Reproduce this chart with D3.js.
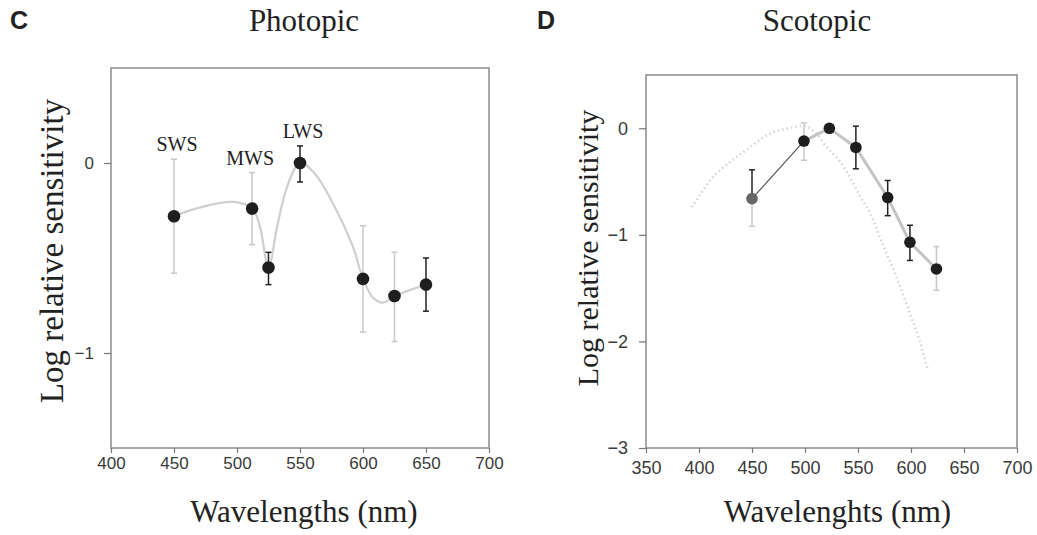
<!DOCTYPE html>
<html>
<head>
<meta charset="utf-8">
<script src="https://cdn.jsdelivr.net/npm/d3@7"></script>
<style>
  body { margin: 0; background: #fff; }
  svg { display: block; }
  .serif { font-family: "Liberation Serif", "Times New Roman", serif; fill: #222; }
  .tick text { font-family: "Liberation Sans", Arial, sans-serif; fill: #3a3a3a; }
</style>
</head>
<body>
<script>
// ---- photopic (panel C) ----
const photWl   = [450, 512, 525, 550, 600, 625, 650];
const photVal  = [-0.28, -0.24, -0.55, 0.0, -0.61, -0.70, -0.64];
const photHi   = [0.02, -0.05, -0.47, 0.09, -0.33, -0.47, -0.50];
const photLo   = [-0.58, -0.43, -0.64, -0.10, -0.89, -0.94, -0.78];
// fitted curve
const photFitWl  = [450, 470, 497, 512, 518, 525, 532, 540, 550, 561, 576, 592, 600, 608, 616, 625, 650];
const photFitVal = [-0.28, -0.235, -0.205, -0.24, -0.33, -0.55, -0.33, -0.12, 0, -0.05, -0.21, -0.44, -0.61, -0.71, -0.735, -0.70, -0.64];
const coneNames = ['SWS', 'MWS', 'LWS'];
const coneWl    = [450, 512, 550];
const photXTicks = [400, 450, 500, 550, 600, 650, 700];
const photYTicks = [-1, 0];

// ---- scotopic (panel D) ----
const scotWl  = [450, 499, 523, 548, 578, 599, 624];
const scotVal = [-0.66, -0.12, 0.0, -0.18, -0.65, -1.07, -1.32];
const scotHi  = [-0.39, 0.05, 0.0, 0.02, -0.49, -0.91, -1.11];
const scotLo  = [-0.92, -0.30, 0.0, -0.38, -0.82, -1.24, -1.52];
// rhodopsin template (dotted)
const tplWl  = [393, 400, 413, 430, 445, 467, 485, 500, 510, 520, 532, 542, 552, 561, 573, 586, 599, 608, 616];
const tplVal = [-0.74, -0.64, -0.46, -0.31, -0.2, -0.05, 0.0, 0.02, -0.04, -0.17, -0.3, -0.45, -0.64, -0.79, -1.08, -1.39, -1.74, -1.99, -2.27];
const scotXTicks = [350, 400, 450, 500, 550, 600, 650, 700];
const scotYTicks = [-3, -2, -1, 0];

const W = 1037, H = 535;
const svg = d3.select('body').append('svg').attr('width', W).attr('height', H);

function panel(opt) {
  const x = d3.scaleLinear().domain(opt.xDomain).range([opt.left, opt.right]);
  const y = d3.scaleLinear().domain(opt.yDomain).range([opt.bottom, opt.top]);
  const g = svg.append('g');

  // frame
  g.append('rect')
    .attr('x', opt.left).attr('y', opt.top)
    .attr('width', opt.right - opt.left).attr('height', opt.bottom - opt.top)
    .attr('fill', 'none').attr('stroke', '#8a8a8a').attr('stroke-width', 1.5);

  const xa = g.append('g').attr('transform', `translate(0,${opt.bottom})`)
    .call(d3.axisBottom(x).tickValues(opt.xTicks).tickSize(5).tickPadding(opt.xPad).tickFormat(d3.format('d')));
  const ya = g.append('g').attr('transform', `translate(${opt.left},0)`)
    .call(d3.axisLeft(y).tickValues(opt.yTicks).tickSize(7).tickPadding(opt.yPad).tickFormat(d3.format('d')));
  [xa, ya].forEach(a => {
    a.select('.domain').remove();
    a.selectAll('line').attr('stroke', '#777').attr('stroke-width', 1.2);
    a.selectAll('text').style('font-size', opt.tickFont + 'px');
  });

  // titles and labels
  svg.append('text').attr('class', 'serif')
    .attr('x', opt.titleX).attr('y', 31).attr('text-anchor', 'middle')
    .style('font-size', '31px').text(opt.title);
  svg.append('text')
    .attr('x', opt.letterX).attr('y', 29)
    .style('font-family', '"Liberation Sans", Arial, sans-serif')
    .style('font-weight', 'bold').style('font-size', '25px').attr('fill', '#222')
    .text(opt.letter);
  svg.append('text').attr('class', 'serif')
    .attr('transform', `translate(${opt.yLabelX},${opt.yLabelY}) rotate(-90)`)
    .attr('text-anchor', 'middle').style('font-size', opt.yLabelFont + 'px')
    .text('Log relative sensitivity');
  svg.append('text').attr('class', 'serif')
    .attr('x', (opt.left + opt.right) / 2 + opt.xLabelShift).attr('y', 522)
    .attr('text-anchor', 'middle').style('font-size', '31px')
    .text(opt.xLabel);

  return { g, x, y };
}

// vertical error bars, each half (upper / lower) may be faint grey or dark
function errorBars(p, wl, val, hi, lo, faintHi, faintLo) {
  const cap = 3;
  wl.forEach((w, i) => {
    if (hi[i] === lo[i]) return;
    const cx = p.x(w);
    [[hi[i], faintHi.has(w)], [lo[i], faintLo.has(w)]].forEach(([v, faint]) => {
      const col = faint ? '#c8c8c8' : '#222';
      p.g.append('line').attr('x1', cx).attr('x2', cx)
        .attr('y1', p.y(val[i])).attr('y2', p.y(v))
        .attr('stroke', col).attr('stroke-width', 1.5);
      p.g.append('line').attr('x1', cx - cap).attr('x2', cx + cap)
        .attr('y1', p.y(v)).attr('y2', p.y(v))
        .attr('stroke', col).attr('stroke-width', 1.5);
    });
  });
}

// ---- panel C ----
const C = panel({
  left: 111, right: 489, top: 68, bottom: 448,
  xDomain: [400, 700], yDomain: [-1.5, 0.5],
  xTicks: photXTicks, yTicks: photYTicks, xPad: 4, yPad: 10, tickFont: 17,
  title: 'Photopic', titleX: 304, letter: 'C', letterX: 10,
  yLabelX: 63, yLabelY: 251, yLabelFont: 33,
  xLabel: 'Wavelengths (nm)', xLabelShift: 4
});

C.g.append('path')
  .datum(photFitWl.map((w, i) => [w, photFitVal[i]]))
  .attr('fill', 'none').attr('stroke', '#cfcfcf').attr('stroke-width', 2.2)
  .attr('d', d3.line().x(d => C.x(d[0])).y(d => C.y(d[1])).curve(d3.curveCatmullRom.alpha(0.5)));

const photFaint = new Set([450, 512, 600, 625]);
errorBars(C, photWl, photVal, photHi, photLo, photFaint, photFaint);

C.g.selectAll('circle.pt').data(photWl).enter().append('circle')
  .attr('cx', d => C.x(d)).attr('cy', (d, i) => C.y(photVal[i]))
  .attr('r', 6.3).attr('fill', '#1e1e1e');

C.g.selectAll('text.cone').data(coneNames).enter().append('text')
  .attr('class', 'serif')
  .attr('x', (d, i) => C.x(coneWl[i]) + (i === 1 ? -2 : 3))
  .attr('y', (d, i) => C.y(photHi[photWl.indexOf(coneWl[i])]) - 8)
  .attr('text-anchor', 'middle').style('font-size', '20px')
  .text(d => d);

// ---- panel D ----
const D = panel({
  left: 646, right: 1017, top: 75, bottom: 448,
  xDomain: [350, 700], yDomain: [-3, 0.5],
  xTicks: scotXTicks, yTicks: scotYTicks, xPad: 8, yPad: 11, tickFont: 18,
  title: 'Scotopic', titleX: 817, letter: 'D', letterX: 537,
  yLabelX: 598, yLabelY: 248, yLabelFont: 30,
  xLabel: 'Wavelenghts (nm)', xLabelShift: 6
});

D.g.append('path')
  .datum(tplWl.map((w, i) => [w, tplVal[i]]))
  .attr('fill', 'none').attr('stroke', '#d4d4d4').attr('stroke-width', 2.5)
  .attr('stroke-dasharray', '1.5,3')
  .attr('d', d3.line().x(d => D.x(d[0])).y(d => D.y(d[1])).curve(d3.curveCatmullRom.alpha(0.5)));

const scotLine = d3.line().x(d => D.x(d[0])).y(d => D.y(d[1]));
D.g.append('path')
  .datum(scotWl.slice(1).map((w, i) => [w, scotVal[i + 1]]))
  .attr('fill', 'none').attr('stroke', '#c4c4c4').attr('stroke-width', 3)
  .attr('d', scotLine);
D.g.append('path')
  .datum(scotWl.slice(0, 2).map((w, i) => [w, scotVal[i]]))
  .attr('fill', 'none').attr('stroke', '#555').attr('stroke-width', 1.2)
  .attr('d', scotLine);

errorBars(D, scotWl, scotVal, scotHi, scotLo, new Set([499, 624]), new Set([450, 499, 624]));

D.g.selectAll('circle.pt').data(scotWl).enter().append('circle')
  .attr('cx', d => D.x(d)).attr('cy', (d, i) => D.y(scotVal[i]))
  .attr('r', 5.8).attr('fill', (d, i) => i === 0 ? '#666' : '#1e1e1e');
</script>
</body>
</html>
